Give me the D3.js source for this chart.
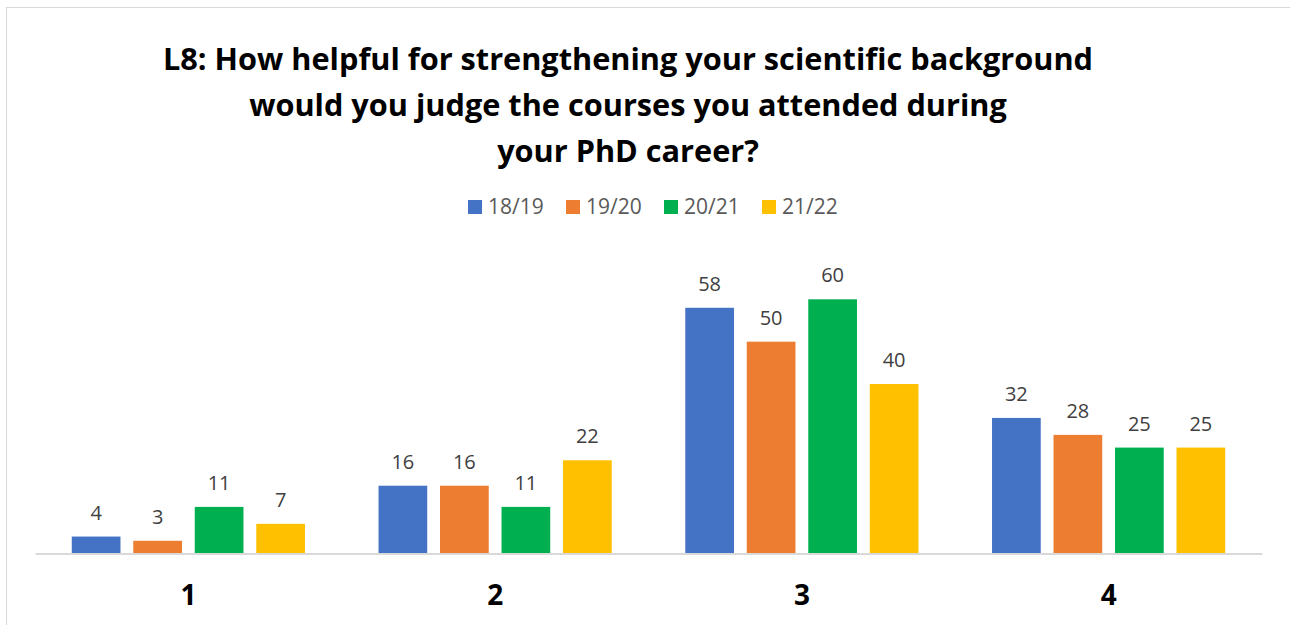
<!DOCTYPE html>
<meta charset="utf-8">
<head>
  <style>
    body { margin: 0; background: #fff; font-family: "Open Sans", sans-serif; }
    .title { font-weight: 700; fill: #000; }
    .val { fill: #404040; font-size: 20px; }
    .leg { fill: #595959; font-size: 21px; }
  </style>
  <script src="https://cdn.jsdelivr.net/npm/d3@7"></script>
</head>
<body>
<div id="chart"></div>
<script>
  // *** data
  var categories = ["1", "2", "3", "4"];
  var seasons = ["18/19", "19/20", "20/21", "21/22"];
  var v1819 = [4, 16, 58, 32];
  var v1920 = [3, 16, 50, 28];
  var v2021 = [11, 11, 60, 25];
  var v2122 = [7, 22, 40, 25];
  var colours = ["#4472C4", "#ED7D31", "#00B050", "#FFC000"];
  var titleLines = [
    "L8: How helpful for strengthening your scientific background",
    "would you judge the courses you attended during",
    "your PhD career?"
  ];

  var seriesVals = [v1819, v1920, v2021, v2122];
  var data = categories.map(function(c, i) {
    return { cat: c, vals: seasons.map(function(s, j) { return { key: s, value: seriesVals[j][i] }; }) };
  });

  var W = 1290, H = 625;
  var baseY = 553.5;

  var svg = d3.select("#chart").append("svg")
    .attr("width", W)
    .attr("height", H);

  // frame (only top + left visible in the photo)
  svg.append("rect")
    .attr("x", 6.5).attr("y", 7.5)
    .attr("width", 1300).attr("height", 640)
    .attr("fill", "none")
    .attr("stroke", "#d9d9d9");

  // *** title
  svg.append("g").selectAll("text")
    .data(titleLines)
    .enter().append("text")
    .attr("class", "title")
    .attr("x", 628)
    .attr("y", function(d, i) { return 70 + i * 46; })
    .attr("text-anchor", "middle")
    .style("font-size", "30.7px")
    .text(function(d) { return d; });

  // *** legend
  var leg = svg.append("g").selectAll("g")
    .data(seasons)
    .enter().append("g")
    .attr("transform", function(d, i) { return "translate(" + (468 + i * 98) + ",200)"; });
  leg.append("rect")
    .attr("width", 14).attr("height", 14)
    .attr("fill", function(d, i) { return colours[i]; });
  leg.append("text")
    .attr("class", "leg")
    .attr("x", 20).attr("y", 14)
    .text(function(d) { return d; });

  // *** scales
  var x0 = d3.scaleBand()
    .domain(categories)
    .range([35, 1262]);

  var x1 = d3.scaleBand()
    .domain(seasons)
    .range([0, x0.bandwidth()])
    .paddingInner(0.208)
    .paddingOuter(0.598);

  var y = d3.scaleLinear()
    .domain([0, 60])
    .range([baseY, baseY - 254.2]);

  var colour = d3.scaleOrdinal().domain(seasons).range(colours);

  // *** bars
  var groups = svg.append("g").selectAll("g")
    .data(data)
    .enter().append("g")
    .attr("transform", function(d) { return "translate(" + x0(d.cat) + ",0)"; });

  groups.selectAll("rect")
    .data(function(d) { return d.vals; })
    .enter().append("rect")
    .attr("x", function(d) { return x1(d.key); })
    .attr("y", function(d) { return y(d.value); })
    .attr("width", x1.bandwidth())
    .attr("height", function(d) { return baseY - y(d.value); })
    .attr("fill", function(d) { return colour(d.key); });

  groups.selectAll("text")
    .data(function(d) { return d.vals; })
    .enter().append("text")
    .attr("class", "val")
    .attr("x", function(d) { return x1(d.key) + x1.bandwidth() / 2; })
    .attr("y", function(d) { return y(d.value) - 17; })
    .attr("text-anchor", "middle")
    .text(function(d) { return d.value; });

  // *** x axis
  var xAxis = d3.axisBottom(x0).tickSize(0).tickPadding(32);
  var ax = svg.append("g")
    .attr("transform", "translate(0," + baseY + ")")
    .call(xAxis);
  ax.select(".domain").attr("stroke", "#d9d9d9").attr("stroke-width", 2);
  ax.selectAll("text")
    .attr("fill", "#000")
    .style("font-family", "'Open Sans', sans-serif")
    .style("font-weight", "700")
    .style("font-size", "28px");
</script>
</body>
